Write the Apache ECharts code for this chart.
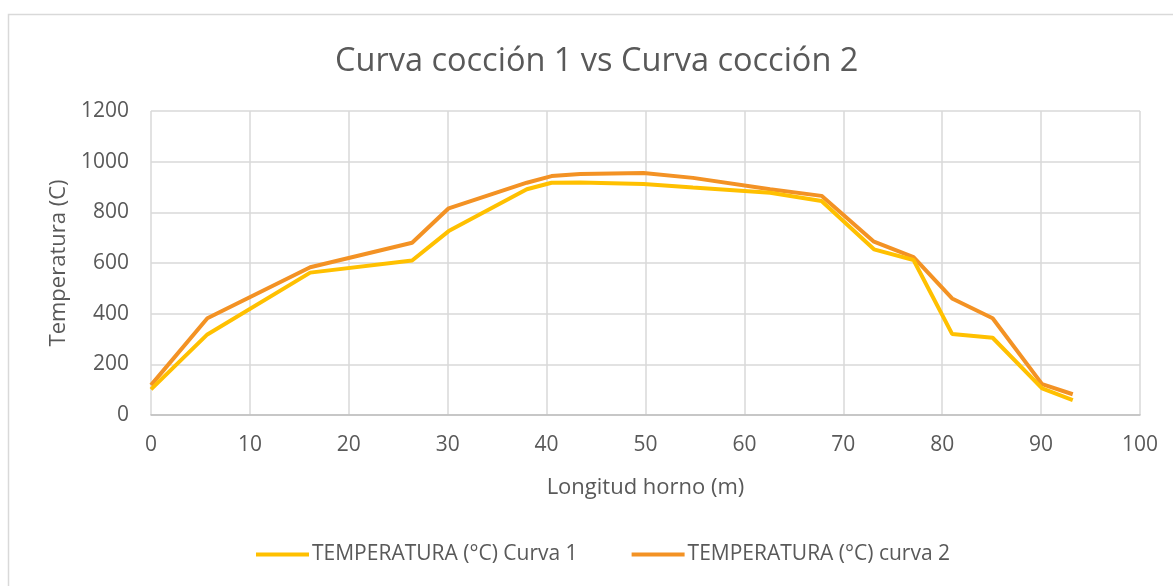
<!DOCTYPE html>
<html>
<head>
<meta charset="utf-8">
<script src="https://cdn.jsdelivr.net/npm/echarts@6/dist/echarts.min.js"></script>
<style>
html,body{margin:0;padding:0;background:#fff;}
#c{width:1173px;height:586px;}
</style>
</head>
<body>
<div id="c"></div>
<script>
var xValues = [0, 5.7, 16.1, 26.4, 30.1, 38, 40.5, 43.4, 49.8, 54.8, 62.6, 67.8, 73.1, 77.1, 81, 85.1, 90.1, 93.2];
var curva1 = [101, 318, 562, 610, 726, 891, 917, 918, 912, 898, 877, 845, 654, 612, 320, 305, 105, 59];
var curva2 = [118, 382, 583, 680, 816, 917, 943, 951, 955, 936, 891, 865, 684, 623, 460, 382, 122, 82];
var seriesNames = ['TEMPERATURA (°C) Curva 1', 'TEMPERATURA (°C) curva 2'];
var titleText = 'Curva cocción 1 vs Curva cocción 2';
var xAxisName = 'Longitud horno (m)';
var yAxisName = 'Temperatura (C)';

function pairs(xs, ys){ return xs.map(function(x,i){ return [x, ys[i]]; }); }

var FONT = 'Open Sans';
var chart = echarts.init(document.getElementById('c'), null, {renderer:'canvas'});
chart.setOption({
  backgroundColor:'#fff',
  animation:false,
  graphic:[{type:'rect', left:6, top:12, shape:{width:1200, height:600}, style:{fill:'none', stroke:'#d9d9d9', lineWidth:1.5}, z:-1}],
  title:{text:titleText, left:330, top:40, textStyle:{fontFamily:FONT, fontSize:32.5, fontWeight:'normal', color:'#595959'}},
  legend:{bottom:16, left:251, itemWidth:53, itemHeight:4, itemGap:54, icon:'rect',
    textStyle:{fontFamily:FONT, fontSize:21, color:'#595959', padding:[0,0,0,-2]}, data:seriesNames},
  grid:{left:151, right:33, top:111, bottom:171, containLabel:false},
  xAxis:{type:'value', min:0, max:100, interval:10,
    name:xAxisName, nameLocation:'middle', nameGap:62,
    nameTextStyle:{fontFamily:FONT, fontSize:22, color:'#595959'},
    axisLine:{show:true, lineStyle:{color:'#bfbfbf', width:1.5}},
    axisTick:{show:false},
    axisLabel:{fontFamily:FONT, fontSize:21, color:'#595959', margin:20, formatter:function(v){return String(v);}},
    splitLine:{show:true, lineStyle:{color:'#d9d9d9', width:1.5}}},
  yAxis:{type:'value', min:0, max:1200, interval:200,
    name:yAxisName, nameLocation:'middle', nameGap:80, nameRotate:90,
    nameTextStyle:{fontFamily:FONT, fontSize:22, color:'#595959'},
    axisLine:{show:false}, axisTick:{show:false},
    axisLabel:{fontFamily:FONT, fontSize:21, color:'#595959', margin:22, formatter:function(v){return String(v);}},
    splitLine:{show:true, lineStyle:{color:'#d9d9d9', width:1.5}}},
  series:[
    {name:seriesNames[0], type:'line', data:pairs(xValues, curva1), showSymbol:false, symbol:'none',
      lineStyle:{color:'#FFC000', width:4}, itemStyle:{color:'#FFC000'}, z:3},
    {name:seriesNames[1], type:'line', data:pairs(xValues, curva2), showSymbol:false, symbol:'none',
      lineStyle:{color:'#F39224', width:4}, itemStyle:{color:'#F39224'}, z:2}
  ]
});
</script>
</body>
</html>
